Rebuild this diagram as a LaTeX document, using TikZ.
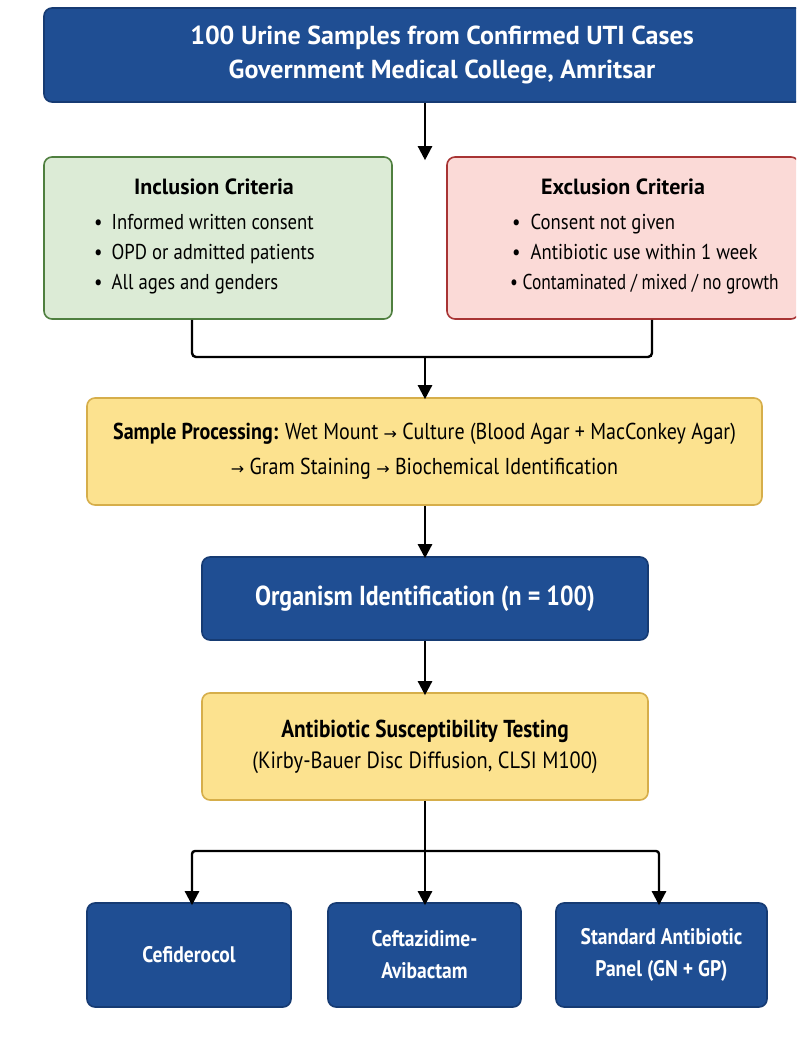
\documentclass[tikz,border=0pt]{standalone}
\usepackage{fontspec}
\setmainfont{PT Sans}[FakeStretch=0.87]
\newfontfamily\natfont{PT Sans}
\newfontfamily\arrowfont{DejaVu Sans}
\usetikzlibrary{arrows.meta}
\definecolor{navy}{HTML}{1F4E93}
\definecolor{navyline}{HTML}{163B73}
\definecolor{yel}{HTML}{FCE28F}
\definecolor{yelline}{HTML}{D6AE4A}
\definecolor{grn}{HTML}{DCEBD6}
\definecolor{grnline}{HTML}{4F7F3F}
\definecolor{pnk}{HTML}{FBDAD7}
\definecolor{pnkline}{HTML}{A83434}
\newcommand{\ra}{{\arrowfont\fontsize{16}{16}\selectfont →}}
\tikzset{
  box/.style={rounded corners=8pt, line width=1.6pt, inner sep=0pt, align=center},
  bluebox/.style={box, fill=navy, draw=navyline, text=white, font=\bfseries},
  yelbox/.style={box, fill=yel, draw=yelline, text=black},
  grnbox/.style={box, fill=grn, draw=grnline},
  pnkbox/.style={box, fill=pnk, draw=pnkline},
  arr/.style={line width=2.4pt, -{Triangle[length=14pt,width=14pt]}},
  conn/.style={line width=2.4pt, rounded corners=4pt},
  lbl/.style={inner sep=0pt, align=left}
}
\begin{document}
\begin{tikzpicture}[x=1pt,y=-1pt]
\useasboundingbox[fill=white] (0,0) rectangle (796,1040);
\begin{scope}
\clip (0,0) rectangle (796,1040);
% top
\node[bluebox, minimum width=796pt, minimum height=94pt, font=\natfont\bfseries\fontsize{26}{34}\selectfont] (top) at (442,55)
  {100 Urine Samples from Confirmed UTI Cases\\Government Medical College, Amritsar};
% criteria
\node[grnbox, minimum width=348pt, minimum height=162pt] (incl) at (218,238) {};
\node[pnkbox, minimum width=352pt, minimum height=162pt] (excl) at (623,238) {};
\end{scope}
\node[lbl, font=\natfont\bfseries\fontsize{22}{24}\selectfont] (inclt) at (214,187) {Inclusion Criteria};
\node[lbl, anchor=west, font=\fontsize{21.5}{30}\selectfont] (incll) at (94,254)
  {•\hspace{9pt}Informed written consent\\•\hspace{9pt}OPD or admitted patients\\•\hspace{9pt}All ages and genders};
\node[lbl, font=\natfont\bfseries\fontsize{22}{24}\selectfont] (exclt) at (623,187) {Exclusion Criteria};
\node[lbl, anchor=west, font=\fontsize{21.5}{30}\selectfont] (excll) at (510,254)
  {\hspace{2pt}•\hspace{10pt}Consent not given\\\hspace{2pt}•\hspace{10pt}Antibiotic use within 1 week\\\scalebox{0.93}[1]{•\hspace{5pt}Contaminated / mixed / no growth}};
% processing
\node[yelbox, minimum width=675pt, minimum height=107pt, font=\fontsize{23}{35}\selectfont] (proc) at (424.5,451.5)
  {\textbf{Sample Processing:} Wet Mount \ra{} Culture (Blood Agar + MacConkey Agar)\\\ra{} Gram Staining \ra{} Biochemical Identification};
\node[bluebox, minimum width=446pt, minimum height=83pt, font=\bfseries\fontsize{27.5}{30}\selectfont] (org) at (425,598.5)
  {Organism Identification (n = 100)};
\node[yelbox, minimum width=446pt, minimum height=107pt, font=\fontsize{23.5}{31}\selectfont] (ast) at (425,746.5)
  {{\fontsize{24.5}{31}\selectfont\textbf{Antibiotic Susceptibility Testing}}\\(Kirby-Bauer Disc Diffusion, CLSI M100)};
% bottom
\node[bluebox, minimum width=204pt, minimum height=104pt, font=\bfseries\fontsize{22.5}{32}\selectfont] (b1) at (189,955) {Cefiderocol};
\node[bluebox, minimum width=193pt, minimum height=104pt, font=\bfseries\fontsize{22.5}{32}\selectfont] (b2) at (424.5,955) {Ceftazidime-\\Avibactam};
\node[bluebox, minimum width=211pt, minimum height=104pt, font=\bfseries\fontsize{22.5}{32}\selectfont] (b3) at (661.5,955) {Standard Antibiotic\\Panel (GN + GP)};
% connectors
\coordinate (sp) at (425,0);
\coordinate (jl) at (192,357);
\coordinate (jr) at (652,357);
\coordinate (br) at (425,851);
\draw[arr] (top.south -| sp) -- ([yshift=-4pt]incl.north -| sp);
\draw[conn] (incl.south -| jl) -- (jl) -- (jr) -- (excl.south -| jr);
\draw[arr] (sp |- jl) -- ([yshift=-2pt]proc.north -| sp);
\draw[arr] (proc.south -| sp) -- ([yshift=-2pt]org.north -| sp);
\draw[arr] (org.south -| sp) -- ([yshift=-3pt]ast.north -| sp);
\draw[line width=2.4pt] (ast.south -| sp) -- (br);
\draw[arr, rounded corners=3pt] (br) -| ([yshift=-3pt]b1.north -| jl);
\draw[arr] (br) -- ([yshift=-3pt]b2.north -| sp);
\draw[arr, rounded corners=3pt] (br) -| ([yshift=-3pt]b3.north -| 659,0);
\end{tikzpicture}
\end{document}
